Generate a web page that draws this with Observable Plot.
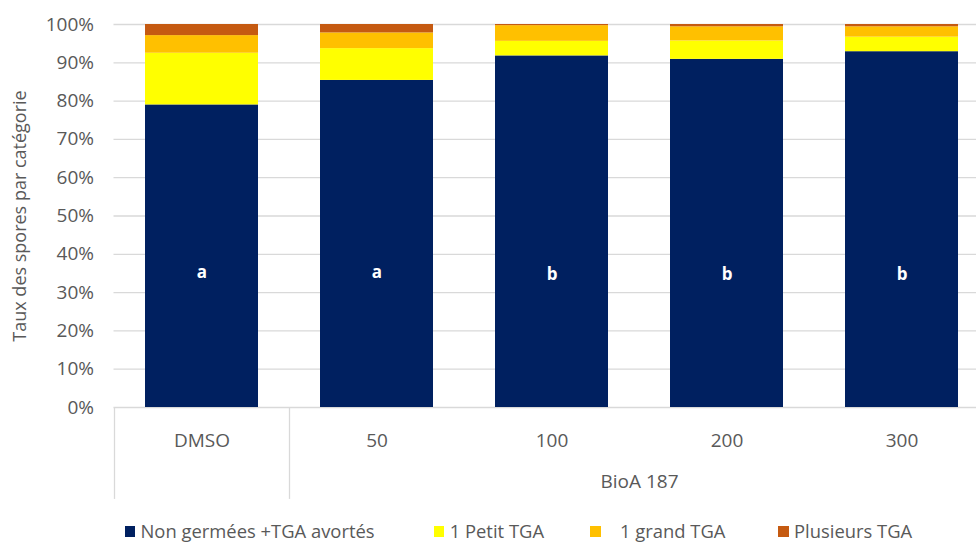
<!DOCTYPE html>
<html>
<head>
<meta charset="utf-8">
<script src="https://cdn.jsdelivr.net/npm/d3@7"></script>
<script src="https://cdn.jsdelivr.net/npm/@observablehq/plot@0.6"></script>
<style>
  html, body { margin: 0; padding: 0; background: #fff; }
  body { width: 976px; height: 543px; position: relative; overflow: hidden; font-family: "Open Sans", sans-serif; }
  #legend { position: absolute; top: 521px; left: 0; width: 976px; height: 22px; }
  .item { position: absolute; top: 0; height: 22px; line-height: 22px; font-size: 18.4px; color: #595959; white-space: nowrap; }
  .sw { position: absolute; top: 5px; width: 10.5px; height: 11px; }
  .lbl { position: absolute; top: -1px; }
</style>
</head>
<body>
<div id="chart"></div>
<div id="legend"></div>
<script>
// ---- data ----
const categories = ["DMSO", "50", "100", "200", "300"];
const seriesNames = ["Non germées +TGA avortés", "1 Petit TGA", "1 grand TGA", "Plusieurs TGA"];
const nonGermees   = [79.0, 85.4, 91.8, 90.9, 92.9];
const petitTGA     = [13.5,  8.3,  3.8,  4.8,  3.8];
const grandTGA     = [ 4.6,  4.1,  4.1,  3.7,  2.7];
const plusieursTGA = [ 2.9,  2.2,  0.3,  0.6,  0.6];
const letters = ["a", "a", "b", "b", "b"];
const yTicks = [0, 10, 20, 30, 40, 50, 60, 70, 80, 90, 100];
const groupLabel = "BioA 187";
const yTitle = "Taux des spores par catégorie";
const colors = ["#002060", "#FFFF00", "#FFC000", "#C55A11"];

// ---- build table ----
const seriesValues = [nonGermees, petitTGA, grandTGA, plusieursTGA];
const rows = [];
categories.forEach((c, i) => {
  seriesNames.forEach((s, j) => rows.push({cat: c, series: s, value: seriesValues[j][i]}));
});
const letterRows = categories.map((c, i) => ({cat: c, letter: letters[i]}));

const W = 976, H = 510;
const step = 175;
const left = 113.5;
const textColor = "#595959";
const gridColor = "#d9d9d9";

const chart = Plot.plot({
  width: W,
  height: H,
  marginLeft: left,
  marginRight: 0,
  marginTop: 24,
  marginBottom: 103,
  style: {fontFamily: "'Open Sans', sans-serif", background: "#fff", overflow: "visible"},
  x: {domain: categories, range: [left + 0.5, left + 0.5 + step * categories.length], paddingInner: 0.354, paddingOuter: 0.177, axis: null},
  y: {domain: [0, 100], axis: null},
  color: {domain: seriesNames, range: colors},
  marks: [
    Plot.ruleY(yTicks, {y: d => d, stroke: gridColor, strokeWidth: 1.3}),
    Plot.barY(rows, {x: "cat", y: "value", fill: "series"}),
    Plot.text(letterRows, {x: "cat", y: d => d.letter === "a" ? 35.3 : 34.6, text: "letter", fill: "white", fontWeight: "bold", fontSize: 17}),
    Plot.axisY({ticks: yTicks, tickFormat: d => d + "%", tickSize: 0, tickPadding: 20, fontSize: 19, fill: textColor, label: null}),
    Plot.axisX({tickSize: 0, tickPadding: 26, fontSize: 19, fill: textColor, label: null}),
    Plot.ruleX([categories[0], categories[1]], {x: d => d, y1: 0, y2: -24, dx: -step / 2, stroke: gridColor, strokeWidth: 1.3}),
    Plot.text([groupLabel], {x: () => categories[2], text: d => d, dx: step / 2, frameAnchor: "bottom", dy: 80, fontSize: 19, fill: textColor}),
    Plot.text([yTitle], {text: d => d, frameAnchor: "left", textAnchor: "middle", rotate: -90, dx: -94, fontSize: 18, fill: textColor})
  ]
});
document.getElementById("chart").appendChild(chart);

// ---- legend ----
const legendX = [124.5, 433.7, 590, 778];
const labelGap = [16, 16, 30, 16];
const legend = document.getElementById("legend");
seriesNames.forEach((s, i) => {
  const it = document.createElement("div");
  it.className = "item";
  it.style.left = legendX[i] + "px";
  const sw = document.createElement("span");
  sw.className = "sw";
  sw.style.background = colors[i];
  const lb = document.createElement("span");
  lb.className = "lbl";
  lb.style.left = labelGap[i] + "px";
  lb.textContent = s;
  it.appendChild(sw);
  it.appendChild(lb);
  legend.appendChild(it);
});
</script>
</body>
</html>
